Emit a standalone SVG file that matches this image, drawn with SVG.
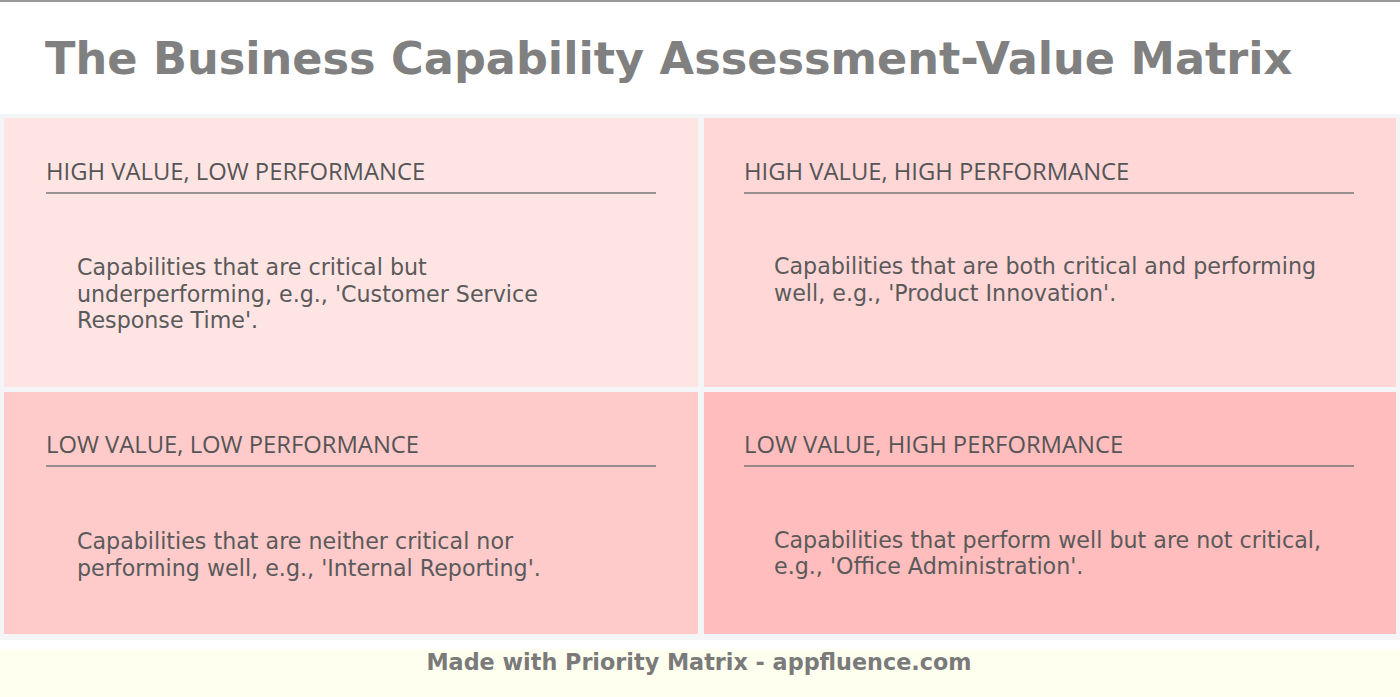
<svg xmlns="http://www.w3.org/2000/svg" width="1400" height="697" viewBox="0 0 1400 697">
<style>
.title{font-family:"DejaVu Sans",sans-serif;font-weight:bold;font-size:44.6px;fill:#808080}
.head{font-family:"Open Sans",sans-serif;font-size:23.8px;fill:#555}
.body{font-family:"DejaVu Sans",sans-serif;font-size:22.2px;fill:#5a5a5a}
.rule{stroke:#777;stroke-width:1.5}
.foot{font-family:"DejaVu Sans",sans-serif;font-weight:bold;font-size:22.3px;fill:#7a7a7a}
</style>
<rect width="1400" height="697" fill="#fff"/>
<line x1="0" y1="1" x2="1400" y2="1" stroke="#999" stroke-width="2"/>
<text class="title" x="45" y="74">The Business Capability Assessment-Value Matrix</text>
<rect x="0" y="114" width="1400" height="526" fill="#f3f5f7"/>
<g id="q-tl">
<rect x="4" y="118" width="694" height="269" fill="#ffe4e4"/>
<text class="head" x="46" y="180">HIGH VALUE, LOW PERFORMANCE</text>
<line class="rule" x1="46" y1="193" x2="656" y2="193"/>
<text class="body"><tspan x="77" y="275">Capabilities that are critical but</tspan><tspan x="77" y="302">underperforming, e.g., 'Customer Service</tspan><tspan x="77" y="328">Response Time'.</tspan></text>
</g>
<g id="q-tr">
<rect x="704" y="118" width="692" height="269" fill="#ffd7d7"/>
<text class="head" x="744" y="180">HIGH VALUE, HIGH PERFORMANCE</text>
<line class="rule" x1="744" y1="193" x2="1354" y2="193"/>
<text class="body"><tspan x="774" y="274">Capabilities that are both critical and performing</tspan><tspan x="774" y="301">well, e.g., 'Product Innovation'.</tspan></text>
</g>
<g id="q-bl">
<rect x="4" y="392" width="694" height="242" fill="#ffcaca"/>
<text class="head" x="46" y="453">LOW VALUE, LOW PERFORMANCE</text>
<line class="rule" x1="46" y1="466" x2="656" y2="466"/>
<text class="body"><tspan x="77" y="549">Capabilities that are neither critical nor</tspan><tspan x="77" y="576">performing well, e.g., 'Internal Reporting'.</tspan></text>
</g>
<g id="q-br">
<rect x="704" y="392" width="692" height="242" fill="#ffbdbd"/>
<text class="head" x="744" y="453">LOW VALUE, HIGH PERFORMANCE</text>
<line class="rule" x1="744" y1="466" x2="1354" y2="466"/>
<text class="body"><tspan x="774" y="548">Capabilities that perform well but are not critical,</tspan><tspan x="774" y="574">e.g., 'Office Administration'.</tspan></text>
</g>
<rect x="0" y="649" width="1400" height="48" fill="#fffff0"/>
<text class="foot" x="699" y="670" text-anchor="middle">Made with Priority Matrix - appfluence.com</text>
</svg>
